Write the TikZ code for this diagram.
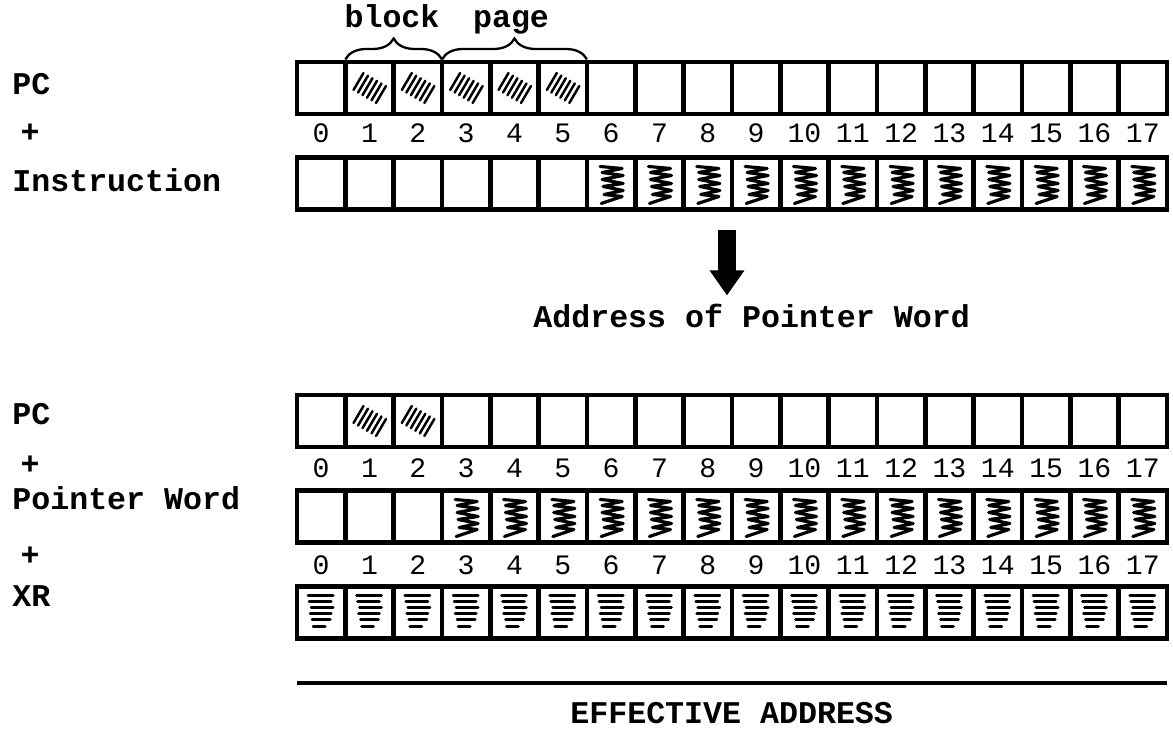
\documentclass[tikz,border=0pt]{standalone}
\usepackage{fontspec}
\setmonofont{Liberation Mono}
\usetikzlibrary{arrows.meta,decorations.pathreplacing}

\tikzset{
  bitcell/.style={draw, line width=2.6pt, minimum width=0.9667cm, minimum height=1.04cm, inner sep=0pt, outer sep=0pt},
  reglabel/.style={anchor=base west, inner sep=0pt, font=\ttfamily\bfseries\fontsize{18}{20}\selectfont},
  bitnum/.style={inner sep=0pt, font=\ttfamily\fontsize{16}{18}\selectfont},
  hatch/.style={line width=1.4pt, line cap=round},
  scribble/.style={line width=1.8pt, line join=round, line cap=round},
  strokes/.style={line width=1.6pt, line cap=round},
  fieldbrace/.style={decorate, decoration={brace, amplitude=0.42cm, raise=0.05cm}, line width=1.3pt}
}

% marks written into a bit cell
\newcommand{\hatchbit}[1]{%
  \begin{scope}[shift={(#1.center)}]
    \foreach \k in {0,...,5} \draw[hatch] (-16+4.5*\k,2+2.6*\k) -- ++(10,-17);
  \end{scope}}
\newcommand{\scribblebit}[1]{%
  \begin{scope}[shift={(#1.center)}]
    \draw[scribble] (-11,-17) -- (11,-15) -- (-9,-11) -- (12,-8) -- (-9,-4) -- (12,0)
      -- (-8,3) -- (12,7) -- (-7,11) -- (11,13) -- (-10,20);
  \end{scope}}
\newcommand{\strokebit}[1]{%
  \begin{scope}[shift={(#1.center)}]
    \draw[strokes] (-13,-17) -- (12,-17);
    \draw[strokes] (-12,-11) -- (10,-11);
    \draw[strokes] (-10,-5) -- (12,-5);
    \draw[strokes] (-11,1) -- (10,1);
    \draw[strokes] (-9,7) -- (9,7);
    \draw[strokes] (-8,14) -- (4,14);
  \end{scope}}

\begin{document}
\begin{tikzpicture}[x=0.02cm,y=-0.02cm]
\useasboundingbox (0,0) rectangle (1173,732);

% registers, 18 bits each
\foreach \i in {0,...,17} {
  \node[bitcell] (pca-\i) at (321.17+48.33*\i,88) {};
  \node[bitnum] (numa-\i) at (321.17+48.33*\i,133) {\i};
  \node[bitcell] (ins-\i) at (321.17+48.33*\i,183.5) {};
  \node[bitcell] (pcb-\i) at (321.17+48.33*\i,421) {};
  \node[bitnum] (numb-\i) at (321.17+48.33*\i,468) {\i};
  \node[bitcell] (ptr-\i) at (321.17+48.33*\i,516.5) {};
  \node[bitnum] (numc-\i) at (321.17+48.33*\i,565) {\i};
  \node[bitcell] (xr-\i) at (321.17+48.33*\i,612.5) {};
}

% shaded bits
\foreach \i in {1,...,5} \hatchbit{pca-\i};
\foreach \i in {6,...,17} \scribblebit{ins-\i};
\foreach \i in {1,2} \hatchbit{pcb-\i};
\foreach \i in {3,...,17} \scribblebit{ptr-\i};
\foreach \i in {0,...,17} \strokebit{xr-\i};

% block and page fields
\draw[fieldbrace] (pca-1.north west) -- (pca-2.north east);
\draw[fieldbrace] (pca-3.north west) -- (pca-5.north east);
\node[reglabel, anchor=base] (blk) at (392,28) {block};
\node[reglabel, anchor=base] (pg) at (511,28) {page};

% left labels
\node[reglabel] (lpca) at (12,95) {PC};
\node[reglabel, anchor=center] (plusa) at (30,133) {+};
\node[reglabel] (lins) at (12,192) {Instruction};
\node[reglabel] (lpcb) at (12,425) {PC};
\node[reglabel, anchor=center] (plusb) at (30,465) {+};
\node[reglabel] (lptr) at (12,510) {Pointer Word};
\node[reglabel, anchor=center] (plusc) at (30,556) {+};
\node[reglabel] (lxr) at (12,607) {XR};

% arrow down to the pointer address
\node[reglabel, inner ysep=5pt] (addr) at (533,328) {Address of Pointer Word};
\coordinate (arrtop) at (727,230);
\draw[line width=0.36cm, -{Triangle[length=0.5cm,width=0.66cm]}] (arrtop) -- (arrtop |- addr.north);

% sum line
\coordinate (sumL) at (297,683);
\coordinate (sumR) at (1167,683);
\draw[line width=2.2pt] (sumL) -- (sumR);
\node[reglabel] (ea) at (570,724) {EFFECTIVE ADDRESS};

\end{tikzpicture}
\end{document}
